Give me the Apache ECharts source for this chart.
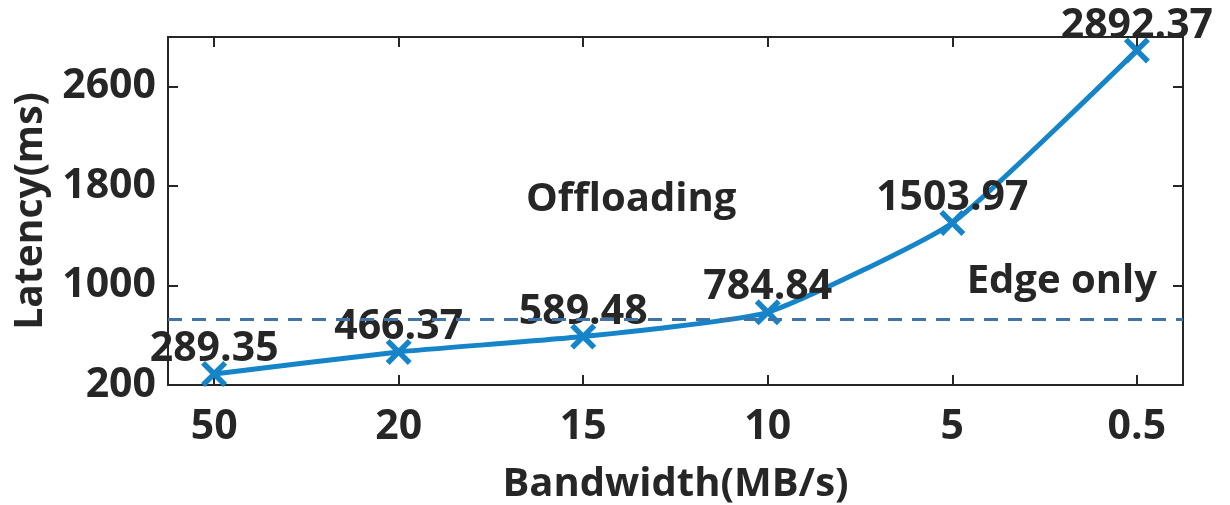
<!DOCTYPE html>
<html>
<head>
<meta charset="utf-8">
<script src="https://cdn.jsdelivr.net/npm/echarts@6/dist/echarts.min.js"></script>
<style>html,body{margin:0;padding:0;background:#fff;}#c{width:1230px;height:505px;}</style>
</head>
<body>
<div id="c"></div>
<script>
const categories = ['50', '20', '15', '10', '5', '0.5'];
const latency = [289.35, 466.37, 589.48, 784.84, 1503.97, 2892.37];
const edgeOnly = 730;
const yTicks = [200, 1000, 1800, 2600];

const FONT = '"Open Sans", "Noto Sans", sans-serif';
const TXT = '#262626';
const AX = '#262626';
const idx = categories.map((c, i) => i);
const seriesData = latency.map((v, i) => [i, v]);
const xSym = 'path://M3,0 L10,7 L17,0 L20,3 L13,10 L20,17 L17,20 L10,13 L3,20 L0,17 L7,10 L0,3 Z';

const chart = echarts.init(document.getElementById('c'));
const xCommon = {
  type: 'value', min: -0.25, max: 5.25,
  splitLine: { show: false },
  axisLine: { show: true, onZero: false, lineStyle: { color: AX, width: 2 } },
  axisTick: { show: true, inside: true, length: 10, customValues: idx, lineStyle: { color: AX, width: 2 } }
};
const yCommon = {
  type: 'value', min: 200, max: 3000,
  splitLine: { show: false },
  axisLine: { show: true, onZero: false, lineStyle: { color: AX, width: 2 } },
  axisTick: { show: true, inside: true, length: 10, customValues: yTicks, lineStyle: { color: AX, width: 2 } }
};
chart.setOption({
  animation: false,
  grid: { left: 168, right: 47, top: 37, bottom: 120, containLabel: false, outerBoundsMode: 'none' },
  xAxis: [
    Object.assign({}, xCommon, {
      position: 'bottom',
      name: 'Bandwidth(MB/s)', nameLocation: 'middle', nameGap: 80,
      nameTextStyle: { fontFamily: FONT, fontWeight: 'bold', fontSize: 40, color: TXT },
      axisLabel: { customValues: idx, formatter: v => categories[Math.round(v)], margin: 22,
        fontFamily: FONT, fontWeight: 'bold', fontSize: 41, color: TXT }
    }),
    Object.assign({}, xCommon, { position: 'top', axisLabel: { show: false } })
  ],
  yAxis: [
    Object.assign({}, yCommon, {
      position: 'left',
      name: 'Latency(ms)', nameLocation: 'middle', nameGap: 118,
      nameTextStyle: { fontFamily: FONT, fontWeight: 'bold', fontSize: 39, color: TXT },
      axisLabel: { customValues: yTicks, formatter: v => String(v), margin: 12,
        fontFamily: FONT, fontWeight: 'bold', fontSize: 41, color: TXT }
    }),
    Object.assign({}, yCommon, { position: 'right', axisLabel: { show: false } })
  ],
  series: [{
    type: 'line',
    data: seriesData,
    smooth: 0.15,
    symbol: xSym,
    symbolSize: 26,
    lineStyle: { color: '#1584c9', width: 5 },
    itemStyle: { color: '#1584c9' },
    label: { show: true, position: 'top', distance: -9,
      formatter: p => p.value[1].toFixed(2),
      fontFamily: FONT, fontWeight: 'bold', fontSize: 41, color: TXT },
    markLine: {
      silent: true, symbol: 'none',
      lineStyle: { color: '#3f74a8', type: [14, 10], width: 3 },
      label: { show: true, position: 'insideEndTop', formatter: 'Edge only', distance: [26, 18],
        fontFamily: FONT, fontWeight: 'bold', fontSize: 40, color: TXT },
      data: [{ yAxis: edgeOnly }]
    },
    z: 3
  }],
  graphic: [{
    type: 'text', left: 526, top: 180,
    style: { text: 'Offloading', fontFamily: FONT, fontWeight: 'bold', fontSize: 40, fill: TXT }
  }]
});
</script>
</body>
</html>
